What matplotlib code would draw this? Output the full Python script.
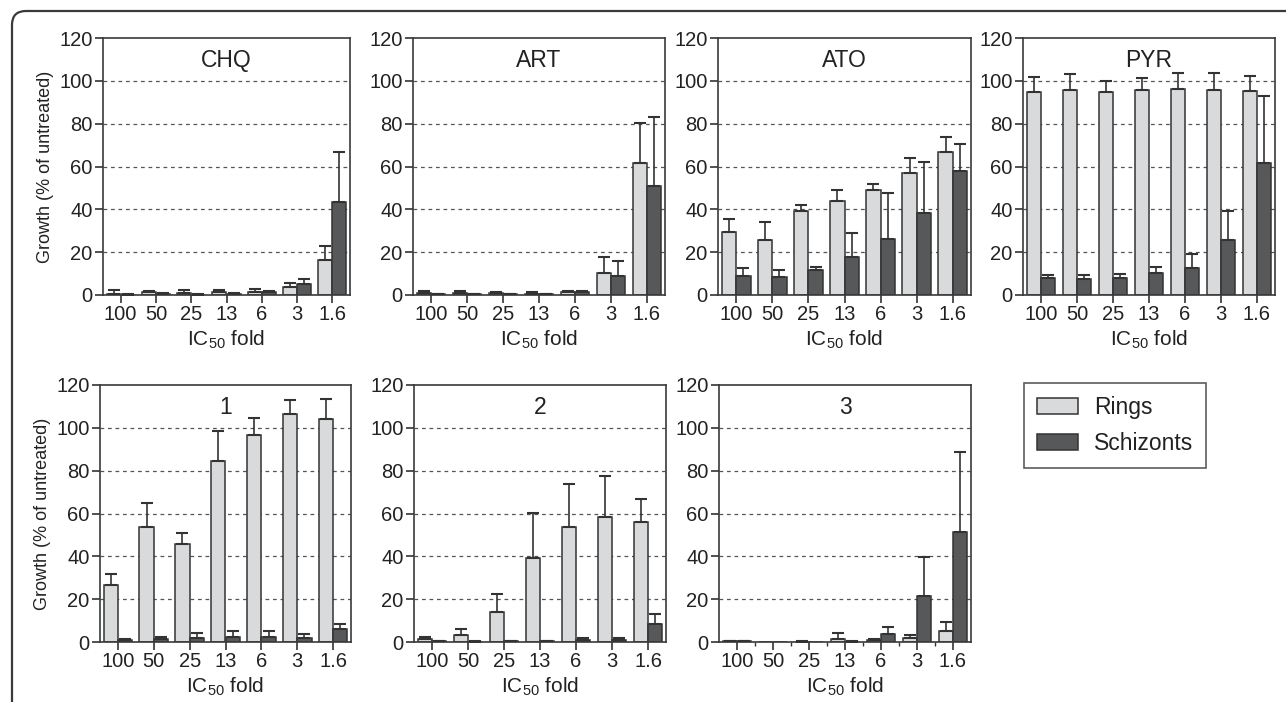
import matplotlib
matplotlib.use('Agg')
import matplotlib.pyplot as plt
import numpy as np
from matplotlib.patches import FancyBboxPatch
from matplotlib.transforms import IdentityTransform

plt.rcParams['font.family'] = ['Liberation Sans', 'DejaVu Sans']
plt.rcParams['mathtext.fontset'] = 'custom'
plt.rcParams['mathtext.rm'] = 'Liberation Sans'
plt.rcParams['mathtext.it'] = 'Liberation Sans:italic'

# Datos (media y error superior, % del control)
folds = ['100', '50', '25', '13', '6', '3', '1.6']

chq_rings = [0.5, 1.2, 0.8, 1.3, 1.5, 3.9, 16.5]
chq_rings_err = [1.8, 0.8, 1.5, 1.0, 1.3, 1.6, 6.4]
chq_schiz = [0.2, 0.5, 0.2, 0.6, 1.6, 5.2, 43.6]
chq_schiz_err = [0.1, 0.3, 0.1, 0.3, 0.5, 2.4, 23.4]

art_rings = [1.0, 1.0, 0.8, 0.6, 1.3, 10.2, 61.5]
art_rings_err = [0.8, 1.0, 0.7, 0.6, 0.4, 7.7, 18.8]
art_schiz = [0.3, 0.3, 0.3, 0.3, 1.4, 9.0, 51.0]
art_schiz_err = [0.1, 0.1, 0.1, 0.1, 0.4, 7.0, 32.0]

ato_rings = [29.3, 25.7, 39.0, 44.1, 49.1, 56.9, 66.7]
ato_rings_err = [6.2, 8.6, 2.8, 4.7, 2.6, 7.3, 6.9]
ato_schiz = [8.9, 8.3, 11.5, 17.8, 26.0, 38.5, 57.7]
ato_schiz_err = [3.6, 3.4, 1.6, 11.0, 21.8, 23.8, 12.9]

pyr_rings = [94.6, 95.8, 95.0, 95.7, 96.2, 95.8, 95.4]
pyr_rings_err = [7.0, 7.2, 4.7, 5.4, 7.3, 7.7, 7.0]
pyr_schiz = [7.8, 7.6, 7.9, 10.1, 12.8, 25.7, 61.5]
pyr_schiz_err = [1.4, 1.8, 2.1, 3.1, 6.4, 13.7, 31.5]

c1_rings = [26.4, 53.5, 45.7, 84.4, 96.5, 106.6, 104.1]
c1_rings_err = [5.3, 11.3, 5.4, 14.3, 8.3, 6.4, 9.5]
c1_schiz = [0.8, 1.3, 2.0, 2.5, 2.3, 1.8, 5.9]
c1_schiz_err = [0.8, 1.0, 2.0, 2.7, 3.0, 1.9, 2.6]

c2_rings = [1.5, 3.4, 14.0, 39.2, 53.9, 58.3, 55.8]
c2_rings_err = [1.0, 2.5, 8.5, 21.1, 19.9, 19.3, 11.0]
c2_schiz = [0.3, 0.2, 0.3, 0.3, 0.8, 1.0, 8.4]
c2_schiz_err = [0.1, 0.1, 0.1, 0.2, 1.0, 0.8, 4.6]

c3_rings = [0.5, 0.0, 0.2, 1.5, 0.8, 1.8, 5.1]
c3_rings_err = [0.2, 0.0, 0.1, 2.5, 0.4, 1.3, 4.1]
c3_schiz = [0.4, 0.0, 0.0, 0.2, 3.7, 21.5, 51.3]
c3_schiz_err = [0.2, 0.0, 0.0, 0.1, 3.1, 18.0, 37.6]

RING_COL = '#d9dadb'
SCHIZ_COL = '#56585a'
EDGE = '#333333'
W, H = 1286, 702

fig = plt.figure(figsize=(W / 100, H / 100), dpi=100)

# Marco redondeado de la figura
marco = FancyBboxPatch((12, -60), 1400, H - 11 + 60,
                       boxstyle='round,pad=0,rounding_size=14',
                       transform=IdentityTransform(), fill=False,
                       ec='#3a3a3a', lw=1.6)
fig.add_artist(marco)

def add_ax(left, top, right, bottom):
    return fig.add_axes([left / W, 1 - bottom / H, (right - left) / W, (bottom - top) / H])

panels = [
    ('CHQ', chq_rings, chq_rings_err, chq_schiz, chq_schiz_err, (103, 38, 350, 295), True),
    ('ART', art_rings, art_rings_err, art_schiz, art_schiz_err, (413, 38, 665, 295), False),
    ('ATO', ato_rings, ato_rings_err, ato_schiz, ato_schiz_err, (718, 38, 971, 295), False),
    ('PYR', pyr_rings, pyr_rings_err, pyr_schiz, pyr_schiz_err, (1023, 38, 1275, 295), False),
    ('1', c1_rings, c1_rings_err, c1_schiz, c1_schiz_err, (100, 385, 351, 642), True),
    ('2', c2_rings, c2_rings_err, c2_schiz, c2_schiz_err, (414, 385, 666, 642), False),
    ('3', c3_rings, c3_rings_err, c3_schiz, c3_schiz_err, (719, 385, 971, 642), False),
]

x = np.arange(len(folds))
bw = 0.4
handles = None

for title, rings, rerr, schiz, serr, box, ylab in panels:
    ax = add_ax(*box)
    rings = np.array(rings)
    schiz = np.array(schiz)
    rerr = np.array(rerr)
    serr = np.array(serr)

    for g in range(20, 101, 20):
        ax.axhline(g, color='#555555', lw=0.9, ls=(0, (3, 3)), zorder=0)

    b1 = ax.bar(x - bw / 2, rings, bw, color=RING_COL, edgecolor=EDGE, lw=1.1, zorder=2, label='Rings')
    b2 = ax.bar(x + bw / 2, schiz, bw, color=SCHIZ_COL, edgecolor=EDGE, lw=1.1, zorder=2, label='Schizonts')
    handles = [b1, b2]

    m = rerr > 0
    ax.errorbar((x - bw / 2)[m], rings[m], yerr=[np.zeros(m.sum()), rerr[m]], fmt='none',
                ecolor=EDGE, elinewidth=1.2, capsize=4, capthick=1.5, zorder=3)
    m = serr > 0
    ax.errorbar((x + bw / 2)[m], schiz[m], yerr=[np.zeros(m.sum()), serr[m]], fmt='none',
                ecolor=EDGE, elinewidth=1.2, capsize=4, capthick=1.5, zorder=3)

    ax.set_xlim(-0.5, len(folds) - 0.5)
    ax.set_ylim(0, 120)
    ax.set_yticks(range(0, 121, 20))
    ax.set_xticks(x)
    ax.set_xticklabels(folds)
    if title == '3':
        ax.set_xticks(x[:-1] + 0.5, minor=True)
        ax.tick_params(axis='x', which='minor', length=3, width=1.0, color='#333333')
    ax.tick_params(direction='out', length=6, width=1.2, labelsize=14.5, pad=1.5,
                   colors='#333333', labelcolor='#222222')
    for s in ax.spines.values():
        s.set_color('#3a3a3a')
        s.set_linewidth(1.2)

    ax.text(0.5, 0.912, title, transform=ax.transAxes, ha='center', va='center',
            fontsize=16.5, color='#222222')
    ax.set_xlabel('IC$_{50}$ fold', fontsize=15, color='#222222', labelpad=3)
    if ylab:
        ax.set_ylabel('Growth (% of untreated)', fontsize=13, color='#222222', labelpad=4)

leg = fig.legend(handles, ['Rings', 'Schizonts'], loc='upper left',
                 bbox_to_anchor=(1024 / W, 1 - 383 / H), borderaxespad=0,
                 fontsize=16.5, frameon=True, fancybox=False, edgecolor='#333333',
                 handlelength=1.8, handleheight=0.7, handletextpad=0.7,
                 labelspacing=0.6, borderpad=0.55)
leg.get_frame().set_linewidth(1.2)
for t in leg.get_texts():
    t.set_color('#222222')

fig.savefig('out.png', dpi=100)
